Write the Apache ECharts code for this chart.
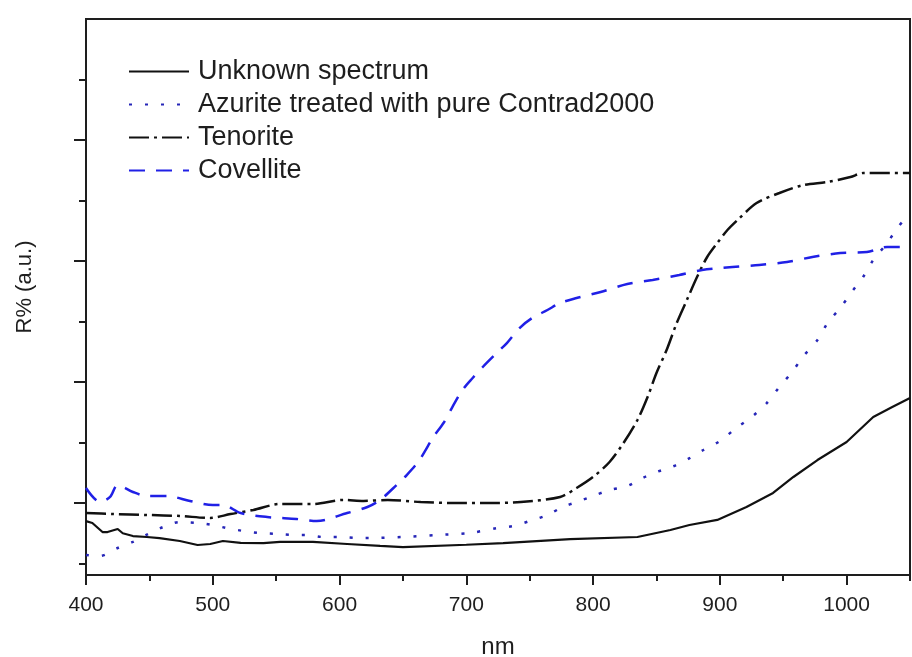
<!DOCTYPE html>
<html lang="en">
<head>
    <meta charset="UTF-8"/>
    <title>R% spectra</title>
    <script src="https://cdn.jsdelivr.net/npm/echarts@6/dist/echarts.min.js"></script>
    <style>
        html, body { margin: 0; padding: 0; background: #fff; }
        #main { width: 912px; height: 657px; }
    </style>
</head>
<body>
<div id="main"></div>
<script type="text/javascript">
    // wavelengths (nm) and reflectance (arbitrary units)
    var unknownNm = [400, 405, 413, 417, 425, 429, 437, 448, 458, 474, 488, 498, 508, 522, 540, 553, 579, 606, 632, 650,
        700, 729, 782, 835, 861, 876, 898, 921, 942, 958, 977, 1000, 1021, 1036, 1050];
    var unknownR = [8.5, 8.35, 7.6, 7.6, 7.85, 7.5, 7.27, 7.19, 7.1, 6.86, 6.53, 6.61, 6.86, 6.7, 6.69, 6.78, 6.78, 6.61, 6.45, 6.36,
        6.55, 6.69, 7.02, 7.19, 7.77, 8.18, 8.6, 9.67, 10.83, 12.15, 13.55, 15.04, 17.11, 17.93, 18.68];

    var azuriteNm = [400, 411, 425, 437, 449, 461, 474, 488, 500, 511, 524, 537, 551, 563, 574, 587, 600, 614, 624, 650,
        677, 703, 724, 737, 750, 764, 776, 787, 798, 813, 827, 839, 850, 862, 875, 887, 900, 913, 926, 937,
        947, 957, 966, 977, 985, 995, 1004, 1013, 1021, 1032, 1040, 1050];
    var azuriteR = [5.7, 5.62, 6.28, 6.78, 7.44, 8.02, 8.43, 8.35, 8.18, 7.93, 7.69, 7.52, 7.44, 7.36, 7.36, 7.19, 7.19, 7.11, 7.11, 7.19,
        7.36, 7.52, 7.93, 8.1, 8.51, 9.01, 9.67, 10.08, 10.5, 11.07, 11.4, 12.07, 12.56, 12.98, 13.64, 14.38, 15.12, 16.2, 17.19, 18.26,
        19.59, 20.83, 22.15, 23.47, 24.88, 26.12, 27.44, 28.68, 30.08, 31.49, 32.73, 33.97];

    var tenoriteNm = [400, 421, 448, 474, 498, 514, 532, 553, 579, 603, 619, 638, 664, 690, 717, 743, 774, 787, 800, 813,
        824, 835, 843, 850, 858, 866, 874, 882, 890, 898, 906, 914, 929, 947, 966, 985, 1003, 1013, 1029, 1050];
    var tenoriteR = [9.17, 9.09, 9.01, 8.93, 8.76, 9.09, 9.42, 9.92, 9.92, 10.25, 10.17, 10.25, 10.08, 10.0, 10.0, 10.08, 10.5, 11.24, 12.15, 13.39,
        14.96, 16.86, 18.76, 20.74, 22.64, 24.88, 26.78, 28.68, 30.33, 31.49, 32.56, 33.39, 34.79, 35.62, 36.28, 36.53, 36.94, 37.27, 37.27, 37.27];

    var covelliteNm = [400, 411, 419, 425, 437, 448, 464, 482, 500, 508, 522, 543, 566, 582, 606, 622, 632, 645, 653, 663,
        674, 682, 689, 697, 705, 713, 724, 732, 742, 752, 764, 774, 787, 806, 827, 847, 868, 886, 910, 931,
        953, 973, 995, 1016, 1032, 1042, 1050];
    var covelliteR = [11.24, 10.08, 10.5, 11.49, 10.91, 10.58, 10.58, 10.17, 9.83, 9.83, 9.17, 8.84, 8.68, 8.51, 9.17, 9.67, 10.25, 11.49, 12.31, 13.55,
        15.45, 16.61, 17.93, 19.34, 20.33, 21.24, 22.4, 23.22, 24.46, 25.29, 25.95, 26.53, 26.94, 27.44, 28.1, 28.43, 28.84, 29.26, 29.5, 29.67,
        29.92, 30.33, 30.66, 30.74, 31.16, 31.16, 30.91];

    var xMajorTicks = [400, 500, 600, 700, 800, 900, 1000];
    var xMinorTicks = [450, 550, 650, 750, 850, 950, 1050];
    var yMajorTicks = [10, 20, 30, 40];
    var yMinorTicks = [5, 15, 25, 35, 45];

    function pairs(xs, ys) {
        var out = [];
        for (var i = 0; i < xs.length; i++) {
            out.push([xs[i], ys[i]]);
        }
        return out;
    }

    var font = 'Liberation Sans, Arial, sans-serif';
    var ink = '#1e1e1e';

    var myChart = echarts.init(document.getElementById('main'));

    var option = {
        animation: false,
        backgroundColor: '#fff',
        textStyle: {fontFamily: font},
        grid: {
            left: 86, right: 2, top: 19, bottom: 82,
            show: true, borderColor: ink, borderWidth: 2,
            containLabel: false, outerBoundsMode: 'none'
        },
        legend: {
            orient: 'vertical',
            left: 128,
            top: 58,
            padding: 0,
            itemWidth: 60,
            itemHeight: 14,
            itemGap: 6,
            selectedMode: false,
            // hide the marker dot, keep the line sample
            itemStyle: {opacity: 0},
            lineStyle: {opacity: 1},
            textStyle: {fontSize: 27, color: ink, fontFamily: font, padding: [0, 0, 0, 4]},
            data: ['Unknown spectrum', 'Azurite treated with pure Contrad2000', 'Tenorite', 'Covellite']
        },
        xAxis: [{
            type: 'value',
            min: 400, max: 1050,
            name: 'nm',
            nameLocation: 'middle',
            nameGap: 60,
            nameTextStyle: {fontSize: 24, color: ink, fontFamily: font},
            axisLine: {show: true, lineStyle: {color: ink, width: 2}},
            axisTick: {customValues: xMajorTicks, length: 10, lineStyle: {color: ink, width: 2}},
            axisLabel: {
                customValues: xMajorTicks, fontSize: 21, margin: 20, color: ink, fontFamily: font,
                formatter: function (v) { return String(v); }
            },
            splitLine: {show: false}
        }, {
            type: 'value',
            min: 400, max: 1050,
            position: 'bottom',
            axisLine: {show: false},
            axisTick: {customValues: xMinorTicks, length: 6, lineStyle: {color: ink, width: 2}},
            axisLabel: {show: false},
            splitLine: {show: false}
        }],
        yAxis: [{
            type: 'value',
            min: 4.05, max: 50,
            name: 'R% (a.u.)',
            nameLocation: 'middle',
            nameGap: 50,
            nameTextStyle: {fontSize: 22, color: ink, fontFamily: font, padding: [0, 0, 0, 20]},
            axisLine: {show: true, lineStyle: {color: ink, width: 2}},
            axisTick: {customValues: yMajorTicks, length: 12, lineStyle: {color: ink, width: 2}},
            axisLabel: {show: false},
            splitLine: {show: false}
        }, {
            type: 'value',
            min: 4.05, max: 50,
            position: 'left',
            axisLine: {show: false},
            axisTick: {customValues: yMinorTicks, length: 7, lineStyle: {color: ink, width: 2}},
            axisLabel: {show: false},
            splitLine: {show: false}
        }],
        series: [
            {
                name: 'Unknown spectrum',
                type: 'line',
                symbol: 'none',
                data: pairs(unknownNm, unknownR),
                itemStyle: {color: '#111'},
                lineStyle: {color: '#111', width: 2.2, type: 'solid'}
            },
            {
                name: 'Azurite treated with pure Contrad2000',
                type: 'line',
                symbol: 'none',
                smooth: 0.3,
                data: pairs(azuriteNm, azuriteR),
                itemStyle: {color: '#2626b8'},
                lineStyle: {color: '#2626b8', width: 2.5, type: [3, 13]}
            },
            {
                name: 'Tenorite',
                type: 'line',
                symbol: 'none',
                smooth: 0.3,
                data: pairs(tenoriteNm, tenoriteR),
                itemStyle: {color: '#111'},
                lineStyle: {color: '#111', width: 2.5, type: [20, 5, 3, 5]}
            },
            {
                name: 'Covellite',
                type: 'line',
                symbol: 'none',
                smooth: 0.3,
                data: pairs(covelliteNm, covelliteR),
                itemStyle: {color: '#2020e6'},
                lineStyle: {color: '#2020e6', width: 2.5, type: [16, 11]}
            }
        ]
    };

    myChart.setOption(option);
</script>
</body>
</html>
